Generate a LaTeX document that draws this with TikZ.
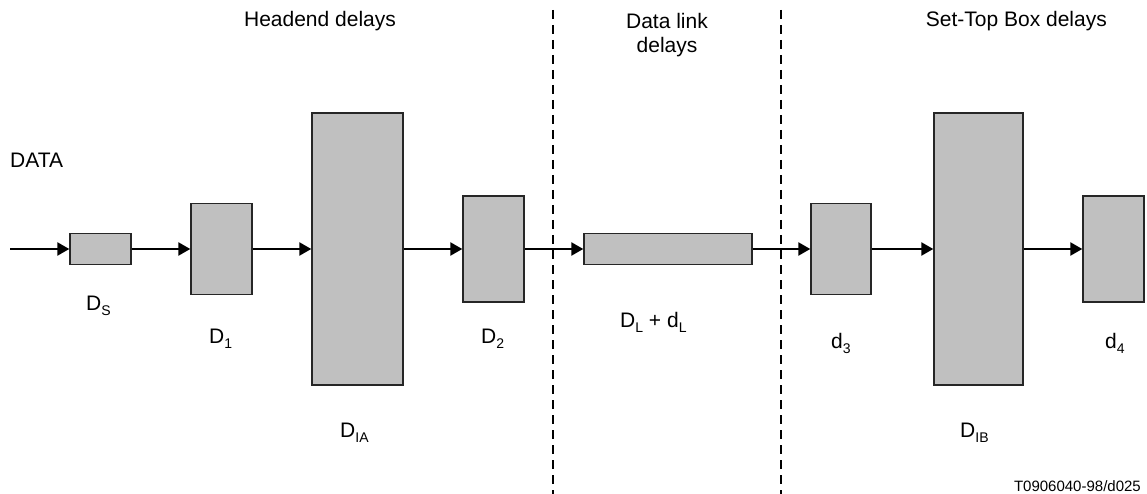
\documentclass[tikz,border=0pt]{standalone}
\usepackage{fontspec}
\setmainfont{Liberation Sans}
\usetikzlibrary{arrows.meta}
\definecolor{boxgray}{HTML}{C0C0C0}
\tikzset{
  blk/.style={draw=black!85, line width=1.4pt, fill=boxgray, inner sep=0pt},
  lbl/.style={font=\fontsize{21}{24}\selectfont, inner sep=0pt},
  flow/.style={->, line width=2.4pt},
  border/.style={line width=1.8pt, dash pattern=on 9pt off 6pt},
}
\newcommand{\lowsub}[1]{\raisebox{-5pt}{\fontsize{14}{14}\selectfont #1}}
\begin{document}
\begin{tikzpicture}[>={Triangle[length=12pt,width=13pt]}, x=1pt, y=-1pt]
\useasboundingbox (0,0) rectangle (1147,494);
\foreach \n/\x/\w/\h in {ds/100.5/61/31, d1/221.5/61/91, dia/357.5/91/272, d2/493.5/61/106,
                         dl/668/168/31, d3/841/60/91, dib/978.5/89/272, d4/1113.5/61/106}
{
    \node[blk, minimum width=\w pt, minimum height=\h pt] (\n) at (\x,249) {};
}
\coordinate (src) at (10,249);
\foreach \a/\b in {src/ds, ds/d1, d1/dia, dia/d2, d2/dl, dl/d3, d3/dib, dib/d4}
{
    \draw[flow] (\a) -- (\b);
}
\foreach \n/\x in {sepa/553, sepb/781}
{
    \coordinate (\n top) at (\x,10);
    \coordinate (\n bot) at (\x,494);
    \draw[border] (\n top) -- (\n bot);
}
\node[lbl, anchor=base] (headend) at (320,27) {Headend delays};
\node[lbl, anchor=north, align=center] (datalink) at (667,12.7) {Data link\\delays};
\node[lbl, anchor=base east] (stb) at (1107,27) {Set-Top Box delays};
\node[lbl, anchor=base west] (data) at (10,168) {DATA};
\node[lbl, anchor=base west] (lds) at (86,310) {D\lowsub{S}};
\node[lbl, anchor=base west] (ld1) at (209,343) {D\lowsub{1}};
\node[lbl, anchor=base west] (ldia) at (340,437) {D\lowsub{IA}};
\node[lbl, anchor=base west] (ld2) at (481,343) {D\lowsub{2}};
\node[lbl, anchor=base west] (ldl) at (620,327) {D\lowsub{L} + d\lowsub{L}};
\node[lbl, anchor=base west] (ld3) at (831,348) {d\lowsub{3}};
\node[lbl, anchor=base west] (ldib) at (960,437) {D\lowsub{IB}};
\node[lbl, anchor=base west] (ld4) at (1105,348) {d\lowsub{4}};
\node[font=\fontsize{15}{15}\selectfont, inner sep=0pt, anchor=base east] (code) at (1141,491) {T0906040-98/d025};
\end{tikzpicture}
\end{document}
